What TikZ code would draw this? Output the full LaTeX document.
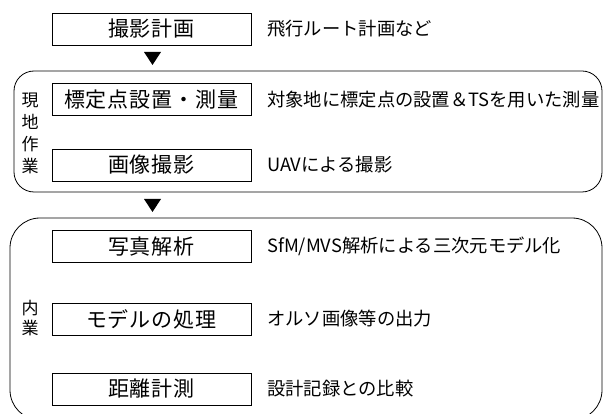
\documentclass[tikz,border=0pt]{standalone}
\usepackage{fontspec}
\setmainfont{Noto Sans CJK JP}
\begin{document}
\begin{tikzpicture}[x=1pt,y=1pt,
  stepbox/.style={draw, line width=0.8pt, minimum width=199pt, minimum height=32pt, inner sep=0pt, font=\fontsize{21}{25}\selectfont},
  note/.style={anchor=west, inner sep=0pt, font=\fontsize{18.3}{22}\selectfont},
  grouplabel/.style={inner sep=0pt, align=center},
  groupbox/.style={draw, line width=0.8pt},
  tri/.style={fill=black}]
\useasboundingbox (0,0) rectangle (603,-414);

% group frames
\draw[groupbox, rounded corners=20pt] (14,-71) rectangle (602,-192);
\draw[groupbox, rounded corners=30pt] (10,-218) rectangle (602,-420);

% step boxes
\node[stepbox] (s1) at (151.5,-29) {撮\kern1pt 影\kern1pt 計\kern1pt 画};
\node[stepbox] (s2) at (151.5,-99.5) {標\kern1pt 定\kern1pt 点\kern1pt 設\kern1pt 置\kern1pt ・\kern1pt 測\kern1pt 量};
\node[stepbox] (s3) at (151.5,-165) {画\kern1pt 像\kern1pt 撮\kern1pt 影};
\node[stepbox] (s4) at (151.5,-246.5) {写\kern1pt 真\kern1pt 解\kern1pt 析};
\node[stepbox] (s5) at (151.5,-319) {モ\kern1pt デ\kern1pt ル\kern1pt の\kern1pt 処\kern1pt 理};
\node[stepbox] (s6) at (151.5,-389) {距\kern1pt 離\kern1pt 計\kern1pt 測};

% notes
\node[note] (n1) at (267,-29) {飛行ルート計画など};
\node[note] (n2) at (267,-99.5) {対象地に標定点の設置＆TSを用いた測量};
\node[note] (n3) at (267,-165) {UAVによる撮影};
\node[note] (n4) at (267,-246.5) {SfM/MVS解析による三次元モデル化};
\node[note] (n5) at (267,-319) {オルソ画像等の出力};
\node[note] (n6) at (267,-389) {設計記録との比較};

% group labels
\node[grouplabel, font=\fontsize{17}{22}\selectfont] (gA) at (30,-133) {現\\地\\作\\業};
\node[grouplabel, font=\fontsize{17}{20}\selectfont] (gB) at (30,-318) {内\\業};

% arrowheads
\coordinate (t1) at (152.5,-52);
\coordinate (t2) at (152.5,-199);
\fill[tri] (t1) ++(-8.5,0) -- ++(17,0) -- ++(-8.5,-13) -- cycle;
\fill[tri] (t2) ++(-8.5,0) -- ++(17,0) -- ++(-8.5,-13) -- cycle;
\end{tikzpicture}
\end{document}
